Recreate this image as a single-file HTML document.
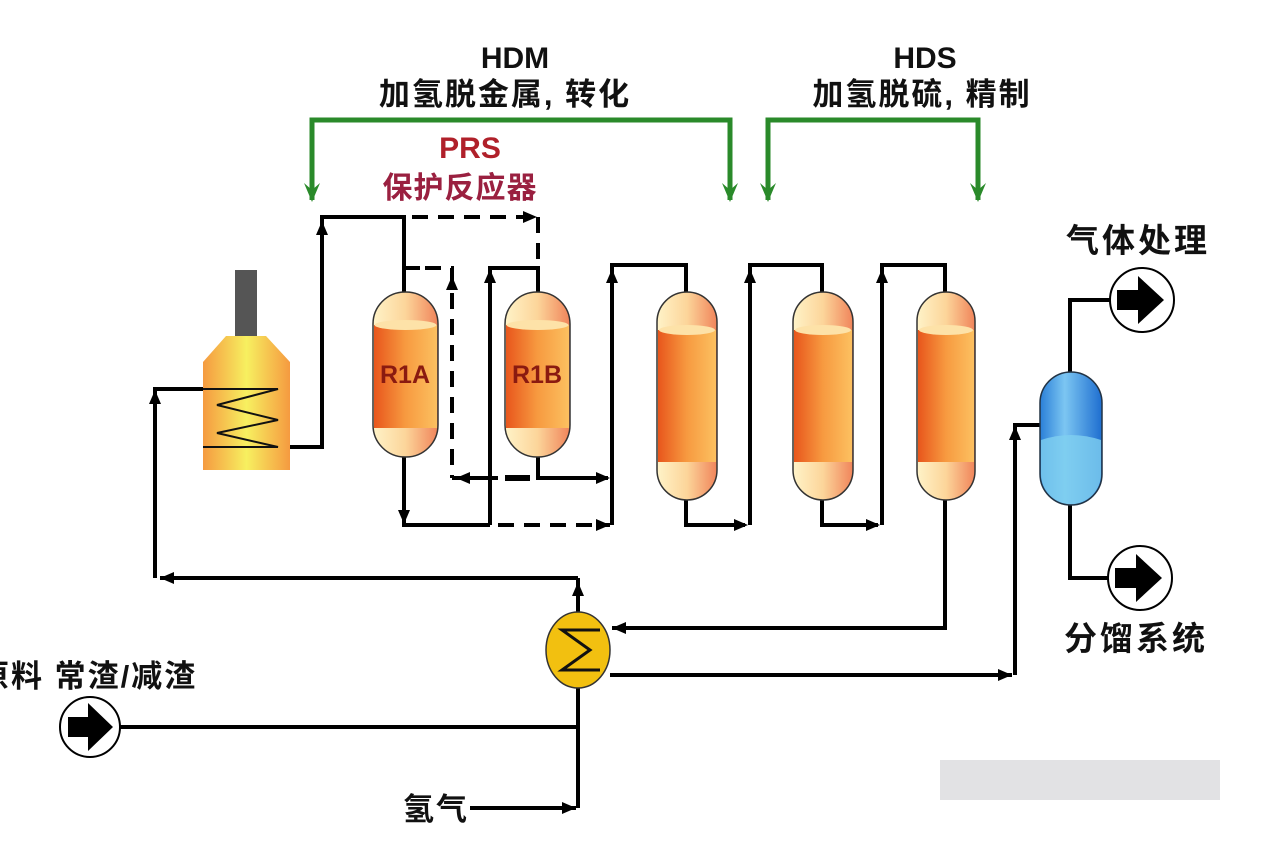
<!DOCTYPE html>
<html><head><meta charset="utf-8"><style>
html,body{margin:0;padding:0;background:#fff;}
svg{display:block;}
text{font-family:"Liberation Sans","Noto Sans CJK SC",sans-serif;font-weight:bold;}
</style></head><body>
<svg width="1262" height="843" viewBox="0 0 1262 843" xmlns="http://www.w3.org/2000/svg">
<defs>
<linearGradient id="shell" x1="0" x2="1" y1="0" y2="0"><stop offset="0" stop-color="#fff3c8"/><stop offset="0.5" stop-color="#fcd59a"/><stop offset="1" stop-color="#f0845a"/></linearGradient>
<linearGradient id="band" x1="0" x2="1"><stop offset="0" stop-color="#e8561c"/><stop offset="0.5" stop-color="#f79a40"/><stop offset="1" stop-color="#fcc060"/></linearGradient>
<linearGradient id="furn" x1="0" x2="1"><stop offset="0" stop-color="#f59a40"/><stop offset="0.5" stop-color="#f7f060"/><stop offset="1" stop-color="#f59a40"/></linearGradient>
<linearGradient id="blue" x1="0" x2="1"><stop offset="0" stop-color="#2a7fd8"/><stop offset="0.4" stop-color="#7cc6f2"/><stop offset="1" stop-color="#1e6ed0"/></linearGradient>
</defs>

<rect x="940" y="760" width="280" height="40" fill="#e2e2e4"/>

<text x="515" y="68" font-size="30" text-anchor="middle" fill="#111">HDM</text>
<text x="505" y="105" font-size="31" text-anchor="middle" fill="#111" letter-spacing="2">加氢脱金属, 转化</text>
<text x="925" y="68" font-size="30" text-anchor="middle" fill="#111">HDS</text>
<text x="922" y="105" font-size="31" text-anchor="middle" fill="#111" letter-spacing="2">加氢脱硫, 精制</text>
<text x="470" y="158" font-size="30" text-anchor="middle" fill="#b0202a">PRS</text>
<text x="460" y="198" font-size="30" text-anchor="middle" fill="#9a2040" letter-spacing="1">保护反应器</text>
<text x="1138" y="252" font-size="33" text-anchor="middle" fill="#111" letter-spacing="3">气体处理</text>
<text x="1136" y="650" font-size="33" text-anchor="middle" fill="#111" letter-spacing="3">分馏系统</text>
<text x="-22" y="687" font-size="31" fill="#111" letter-spacing="2">原料 常渣/减渣</text>
<text x="403" y="820" font-size="31" fill="#111" letter-spacing="2">氢气</text>

<g stroke="#2a8a2a" stroke-width="5" fill="none">
<path d="M312,200 V120 H730 V200" />
<path d="M768,200 V120 H978 V200" />
</g>
<g fill="#2a8a2a">
<path d="M304,183 L312,202 L320,183 L312,190Z"/>
<path d="M722,183 L730,202 L738,183 L730,190Z"/>
<path d="M760,183 L768,202 L776,183 L768,190Z"/>
<path d="M970,183 L978,202 L986,183 L978,190Z"/>
</g>

<rect x="235" y="270" width="22" height="68" fill="#555"/>
<path d="M226,336 H266 L290,362 V470 H203 V362 Z" fill="url(#furn)"/>
<polyline points="203,389 278,389 217,405 278,420 217,433 278,447 203,447" fill="none" stroke="#111" stroke-width="2"/>

<g stroke="#000" stroke-width="4" fill="none">
<path d="M155,578 V389 H203"/>
<path d="M290,447 H322 V217 H404 V292"/>
<path d="M404,268 H420"/>
<path d="M404,455 V525 H490"/>
<path d="M490,525 V268 H538 V292"/>
<path d="M538,455 V478 H608"/>
<path d="M452,478 H498"/>
<path d="M612,525 V265 H686 V292"/>
<path d="M686,500 V525 H745"/>
<path d="M750,525 V265 H822 V292"/>
<path d="M822,500 V525 H878"/>
<path d="M882,525 V265 H945 V292"/>
<path d="M945,500 V628 H612"/>
<path d="M578,578 H160"/>
<path d="M578,808 V578"/>
<path d="M120,727 H578"/>
<path d="M470,808 H576"/>
<path d="M610,675 H1012"/>
<path d="M1015,675 V425 H1042"/>
<path d="M1070,372 V300 H1112"/>
<path d="M1070,505 V578 H1112"/>
<path d="M505,478 H530" stroke-width="6"/>
</g>
<g stroke="#000" stroke-width="4" fill="none" stroke-dasharray="16,10">
<path d="M412,217 H535"/>
<path d="M538,217 V265"/>
<path d="M425,268 H452 V478"/>
<path d="M498,525 H610"/>
</g>
<g fill="#000">
<path d="M316,235 L322,221 L328,235Z"/>
<path d="M523,211 L537,217 L523,223Z"/>
<path d="M446,290 L452,276 L458,290Z"/>
<path d="M470,472 L456,478 L470,484Z"/>
<path d="M398,510 L404,524 L410,510Z"/>
<path d="M484,283 L490,269 L496,283Z"/>
<path d="M596,472 L610,478 L596,484Z"/>
<path d="M596,519 L610,525 L596,531Z"/>
<path d="M606,283 L612,269 L618,283Z"/>
<path d="M734,519 L748,525 L734,531Z"/>
<path d="M744,283 L750,269 L756,283Z"/>
<path d="M866,519 L880,525 L866,531Z"/>
<path d="M876,283 L882,269 L888,283Z"/>
<path d="M149,404 L155,390 L161,404Z"/>
<path d="M174,572 L160,578 L174,584Z"/>
<path d="M572,596 L578,582 L584,596Z"/>
<path d="M626,622 L612,628 L626,634Z"/>
<path d="M562,802 L576,808 L562,814Z"/>
<path d="M998,669 L1012,675 L998,681Z"/>
<path d="M1009,440 L1015,426 L1021,440Z"/>
</g>

<g stroke="#333" stroke-width="1.5">
<rect x="373" y="292" width="65" height="165" rx="32" fill="url(#shell)"/>
<rect x="374" y="325" width="63" height="103" fill="url(#band)" stroke="none"/>
<ellipse cx="405.5" cy="325" rx="31" ry="5" fill="#fde2a8" stroke="none"/>
<rect x="505" y="292" width="65" height="165" rx="32" fill="url(#shell)"/>
<rect x="506" y="325" width="63" height="103" fill="url(#band)" stroke="none"/>
<ellipse cx="537.5" cy="325" rx="31" ry="5" fill="#fde2a8" stroke="none"/>
<rect x="657" y="292" width="60" height="208" rx="30" fill="url(#shell)"/>
<rect x="658" y="330" width="58" height="132" fill="url(#band)" stroke="none"/>
<ellipse cx="687" cy="330" rx="28" ry="5" fill="#fde2a8" stroke="none"/>
<rect x="793" y="292" width="60" height="208" rx="30" fill="url(#shell)"/>
<rect x="794" y="330" width="58" height="132" fill="url(#band)" stroke="none"/>
<ellipse cx="823" cy="330" rx="28" ry="5" fill="#fde2a8" stroke="none"/>
<rect x="917" y="292" width="58" height="208" rx="29" fill="url(#shell)"/>
<rect x="918" y="330" width="56" height="132" fill="url(#band)" stroke="none"/>
<ellipse cx="946" cy="330" rx="27" ry="5" fill="#fde2a8" stroke="none"/>
</g>
<text x="405" y="383" font-size="25" text-anchor="middle" fill="#8a1a10">R1A</text>
<text x="537" y="383" font-size="25" text-anchor="middle" fill="#8a1a10">R1B</text>

<rect x="1040" y="372" width="62" height="133" rx="31" fill="url(#blue)" stroke="#234" stroke-width="1.5"/>
<path d="M1041,440 Q1071,430 1101,440 V474 A30,30 0 0 1 1041,474 Z" fill="#7fd0f0" opacity="0.8"/>

<ellipse cx="578" cy="650" rx="32" ry="38" fill="#f2c010" stroke="#333" stroke-width="1.5"/>
<polyline points="600,630 562,630 590,650 562,670 600,670" fill="none" stroke="#111" stroke-width="3"/>

<g>
<circle cx="90" cy="727" r="30" fill="#fff" stroke="#000" stroke-width="2"/>
<path d="M68,717 H88 V703 L113,727 L88,751 V737 H68Z" fill="#000"/>
<circle cx="1142" cy="300" r="32" fill="#fff" stroke="#000" stroke-width="2"/>
<path d="M1117,290 H1138 V276 L1164,300 L1138,324 V310 H1117Z" fill="#000"/>
<circle cx="1140" cy="578" r="32" fill="#fff" stroke="#000" stroke-width="2"/>
<path d="M1115,568 H1136 V554 L1162,578 L1136,602 V588 H1115Z" fill="#000"/>
</g>
</svg>
</body></html>
